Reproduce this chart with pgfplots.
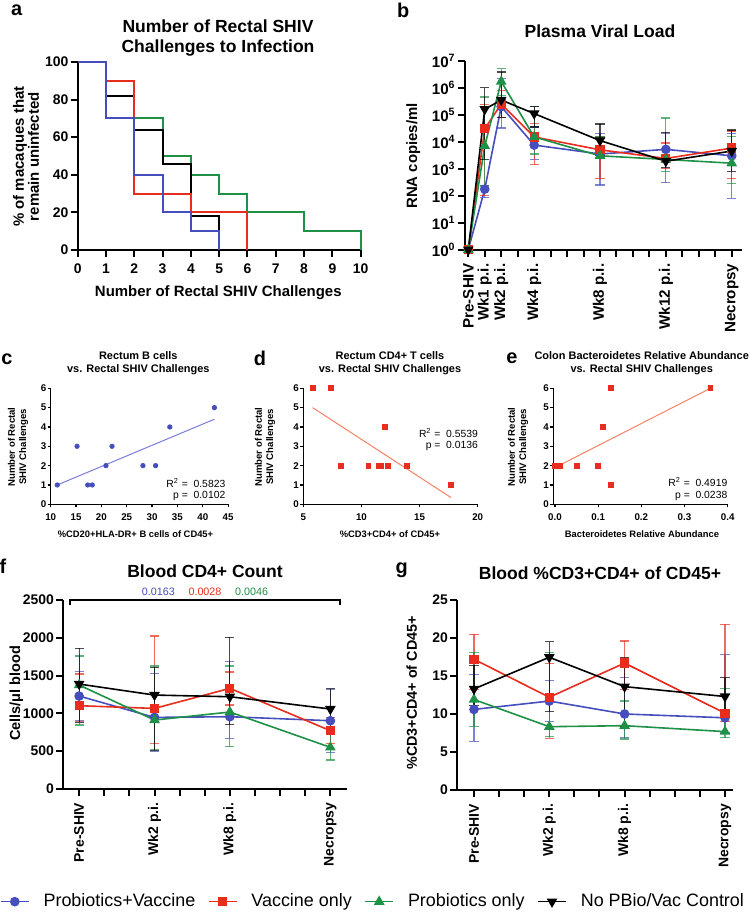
\documentclass[border=0pt]{standalone}
\usepackage{pgfplots}
\pgfplotsset{compat=1.18}
\usepackage{fontspec}
\setmainfont{Liberation Sans}
\definecolor{pblue}{RGB}{70,78,190}
\definecolor{pred}{RGB}{232,45,30}
\definecolor{pgreen}{RGB}{30,145,70}
\definecolor{lblue}{RGB}{120,125,220}
\definecolor{lred}{RGB}{245,130,100}
\newcommand\fs[2]{\fontsize{#1}{#2}\selectfont}
\pgfplotsset{
  gp/.style={scale only axis, anchor=south west, clip=false,
    axis x line*=bottom, axis y line*=left,
    axis line style={line width=1bp,-},
    tick style={black,line width=1bp},
    tick align=outside, major tick length=3.5bp, minor tick length=3.5bp,
    tick label style={font=\bfseries\fs{7}{8}},
    yticklabel style={inner xsep=1bp},
    /pgf/number format/assume math mode=true,
    /pgf/number format/1000 sep={}},
  sm/.style={gp, axis line style={line width=0.6bp,-},
    tick style={black,line width=0.6bp},
    major tick length=1.5bp,
    tick label style={font=\bfseries\fs{4.9}{5.5}},
    xticklabel style={yshift=0.5bp}, yticklabel style={xshift=0.5bp}},
  eb/.style={error bars/.cd, y dir=both, y explicit,
    error bar style={line width=0.6bp, opacity=0.7},
    error mark options={rotate=90, mark size=2.3bp, line width=0.6bp, opacity=0.7}},
  sb/.style={color=pblue, mark=*, line width=0.8bp, mark size=2bp, eb},
  sr/.style={color=pred, mark=square*, line width=0.8bp, mark size=1.9bp, eb},
  sg/.style={color=pgreen, mark=triangle*, line width=0.8bp, mark size=2.3bp, eb},
  sk/.style={color=black, mark=triangle*, mark options={rotate=180}, line width=0.8bp, mark size=2.3bp, eb},
  /pgfplots/table/ebt/.style={x=x, y=y, y error plus expr=\thisrow{hi}-\thisrow{y}, y error minus expr=\thisrow{y}-\thisrow{lo}, row sep=\\},
}
\begin{document}
\begin{tikzpicture}
\path[use as bounding box] (0,0) rectangle (375bp,-456.5bp);

% ---------- a ----------
\begin{axis}[gp, at={(77.7*0.5bp,-250*0.5bp)}, width=141.5bp, height=94bp,
  xmin=0, xmax=10, ymin=0, ymax=100, xtick={0,...,10}, ytick={0,20,...,100}]
\addplot[const plot, pgreen, line width=1bp] coordinates {(0,100)(1,70)(3,50)(4,40)(5,30)(6,20)(8,10)(10,0)};
\addplot[const plot, black, line width=1bp] coordinates {(0,100)(1,81.8)(2,63.6)(3,45.5)(4,18.2)(5,0)};
\addplot[const plot, pred, line width=1bp] coordinates {(0,100)(1,90)(2,30)(4,20)(6,0)};
\addplot[const plot, pblue, line width=1bp] coordinates {(0,100)(1,70)(2,40)(3,20)(4,10)(5,0)};
\end{axis}

% ---------- b ----------
\begin{axis}[gp, at={(465*0.5bp,-249.7*0.5bp)}, width=138.3bp, height=94.5bp,
  ymode=log, ymin=1, ymax=1e7, yminorticks=false,
  ytick={1,10,100,1000,10000,100000,1000000,10000000},
  yticklabels={10\textsuperscript{0},10\textsuperscript{1},10\textsuperscript{2},10\textsuperscript{3},10\textsuperscript{4},10\textsuperscript{5},10\textsuperscript{6},10\textsuperscript{7}},
  tick label style={font=\bfseries\fs{7.6}{8}},
  xmin=-0.2, xmax=16.6, xtick={0,1,2,4,8,12,16},
  xticklabels={Pre-SHIV,Wk1 p.i.,Wk2 p.i.,Wk4 p.i.,Wk8 p.i.,Wk12 p.i.,Necropsy},
  minor xtick={3,5,6,7,9,10,11,13,14,15},
  x tick label style={rotate=90, anchor=east}]
\addplot[sb] table[ebt] {x y lo hi\\ 0 1 1 1\\ 1 175 85 240\\ 2 200000 32000 2200000\\ 4 7500 2200 35000\\ 8 3500 250 20000\\ 12 5200 300 20000\\ 16 3000 80 20000\\};
\addplot[sr] table[ebt] {x y lo hi\\ 0 1 1 1\\ 1 30000 100 240000\\ 2 250000 80000 800000\\ 4 15000 1400 48000\\ 8 5000 430 15000\\ 12 2400 1000 9000\\ 16 5800 430 25000\\};
\addplot[sg] table[ebt] {x y lo hi\\ 0 1 1 1\\ 1 7000 230 450000\\ 2 1700000 500000 5000000\\ 4 15000 3500 200000\\ 8 3000 2500 15000\\ 12 2200 800 75000\\ 16 1600 280 16000\\};
\addplot[sk] table[ebt] {x y lo hi\\ 0 1 1 1\\ 1 160000 2200 1000000\\ 2 350000 80000 3800000\\ 4 110000 35000 200000\\ 8 11000 3000 45000\\ 12 1900 1100 22000\\ 16 4500 800 27000\\};
\end{axis}

% ---------- c ----------
\begin{axis}[sm, at={(50.7*0.5bp,-504.3*0.5bp)}, width=88.7bp, height=58bp,
  xmin=10, xmax=45, ymin=0, ymax=6, xtick={10,15,...,45}, ytick={0,...,6}]
\addplot[only marks, mark=*, pblue, mark size=1.1bp] coordinates {(11.3,1)(15.2,3)(17.3,1)(18.2,1)(20.9,2)(22.1,3)(28.2,2)(30.7,2)(33.5,4)(42.3,5)};
\addplot[lblue, line width=0.5bp] coordinates {(11.3,1.0)(42.3,4.4)};
\end{axis}

% ---------- d ----------
\begin{axis}[sm, at={(303.3*0.5bp,-504.3*0.5bp)}, width=87.2bp, height=58bp,
  xmin=5, xmax=20, ymin=0, ymax=6, xtick={5,10,15,20}, ytick={0,...,6}]
\addplot[lred, line width=0.5bp] coordinates {(5.8,5.0)(17.7,0.35)};
\addplot[only marks, mark=square*, pred, mark size=1.2bp] coordinates {(5.8,6)(7.4,6)(8.2,2)(10.6,2)(11.5,2)(11.7,2)(12.0,4)(12.3,2)(13.9,2)(17.7,1)};
\end{axis}

% ---------- e ----------
\begin{axis}[sm, at={(553.3*0.5bp,-504.3*0.5bp)}, width=87.2bp, height=58bp,
  xmin=-0.004, xmax=0.4, ymin=0, ymax=6, xtick={0,0.1,0.2,0.3,0.4},
  xticklabels={0.0,0.1,0.2,0.3,0.4}, ytick={0,...,6}]
\addplot[lred, line width=0.5bp] coordinates {(0,1.9)(0.36,6.0)};
\addplot[only marks, mark=square*, pred, mark size=1.2bp] coordinates {(0.0,2)(0.004,2)(0.008,2)(0.012,2)(0.05,2)(0.10,2)(0.11,4)(0.13,6)(0.13,1)(0.36,6)};
\end{axis}

% ---------- f ----------
\begin{axis}[gp, at={(63.3*0.5bp,-788.7*0.5bp)}, width=141.7bp, height=94.3bp,
  xmin=-0.63, xmax=10.65, ymin=0, ymax=2500, ytick={0,500,...,2500},
  xtick={0,3,6,10}, xticklabels={Pre-SHIV,Wk2 p.i.,Wk8 p.i.,Necropsy},
  minor xtick={1,2,4,5,7,8,9},
  x tick label style={rotate=90, anchor=east},
  legend columns=4,
  legend style={at={(axis description cs:-0.2234,-0.599)}, anchor=west, draw=none, fill=none,
    inner sep=0pt, outer sep=0pt, font=\fs{9}{10},
    nodes={inner sep=0pt},
    /tikz/every even column/.append style={column sep=6.3bp},
    /tikz/every odd column/.append style={column sep=7bp}},
  legend image code/.code={\draw[mark repeat=2,mark phase=2] plot coordinates {(0bp,0bp)(7bp,0bp)(14bp,0bp)};}]
\addplot[sb] table[ebt] {x y lo hi\\ 0 1228 900 1550\\ 3 945 495 1528\\ 6 954 667 1687\\ 10 901 477 1320\\};
\addlegendentry{Probiotics+Vaccine}
\addplot[sr] table[ebt] {x y lo hi\\ 0 1100 888 1520\\ 3 1064 600 2023\\ 6 1330 1110 1546\\ 10 769 601 940\\};
\addlegendentry{Vaccine only}
\addplot[sg] table[ebt] {x y lo hi\\ 0 1374 844 1760\\ 3 910 515 1625\\ 6 1016 556 1625\\ 10 548 380 720\\};
\addlegendentry{Probiotics only}
\addplot[sk] table[ebt] {x y lo hi\\ 0 1387 880 1860\\ 3 1241 510 1610\\ 6 1219 852 2005\\ 10 1056 790 1325\\};
\addlegendentry{No PBio/Vac Control}
\draw[line width=1bp] (axis cs:-0.37,2430) -- (axis cs:-0.37,2500) -- (axis cs:10.4,2500) -- (axis cs:10.4,2430);
\end{axis}

% ---------- g ----------
\begin{axis}[gp, at={(457.3*0.5bp,-790*0.5bp)}, width=138bp, height=95bp,
  xmin=-0.665, xmax=10.33, ymin=0, ymax=25, ytick={0,5,...,25},
  xtick={0,3,6,10}, xticklabels={Pre-SHIV,Wk2 p.i.,Wk8 p.i.,Necropsy},
  minor xtick={1,2,4,5,7,8,9},
  x tick label style={rotate=90, anchor=east}]
\addplot[sb] table[ebt] {x y lo hi\\ 0 10.6 6.4 15.2\\ 3 11.7 9.0 14.4\\ 6 10.0 6.9 14.8\\ 10 9.5 7.5 17.8\\};
\addplot[sr] table[ebt] {x y lo hi\\ 0 17.2 13.2 20.5\\ 3 12.2 6.8 16.6\\ 6 16.7 13.2 19.6\\ 10 10.1 9.0 21.8\\};
\addplot[sg] table[ebt] {x y lo hi\\ 0 11.9 8.4 18.1\\ 3 8.33 7.0 18.1\\ 6 8.46 6.7 11.7\\ 10 7.68 6.9 13.4\\};
\addplot[sk] table[ebt] {x y lo hi\\ 0 13.3 11.1 16.4\\ 3 17.46 10.35 19.5\\ 6 13.6 8.3 17.4\\ 10 12.3 9.8 14.8\\};
\end{axis}

% ---------- text ----------
\begin{scope}[x=0.5bp, y=-0.5bp]
\node[font=\bfseries\fs{10}{12}] at (16.7,10) {a};
\node[font=\bfseries\fs{8.8}{10}, align=center] at (218,38.3) {Number of Rectal SHIV\\Challenges to Infection};
\node[rotate=90, font=\bfseries\fs{7.5}{7.5}, align=center] at (26,156.7) {\% of macaques that\\remain uninfected};
\node[font=\bfseries\fs{7.5}{9}] at (218.3,292.7) {Number of Rectal SHIV Challenges};

\node[font=\bfseries\fs{10}{12}] at (403.3,10) {b};
\node[font=\bfseries\fs{8.8}{10}] at (600,31.7) {Plasma Viral Load};
\node[rotate=90, font=\bfseries\fs{7.5}{9}] at (413.3,156) {RNA copies/ml};

\node[font=\bfseries\fs{10}{12}] at (7,359) {c};
\node[font=\bfseries\fs{5.5}{6.7}, align=center] at (138.3,363.3) {Rectum B cells\\vs. Rectal SHIV Challenges};
\node[rotate=90, font=\bfseries\fs{4.8}{5.6}, align=center] at (18,447) {Number of Rectal\\SHIV Challenges};
\node[font=\bfseries\fs{4.7}{5.5}] at (135.5,534) {\%CD20+HLA-DR+ B cells of CD45+};
\node[anchor=east, font=\fs{5.2}{5.9}, inner sep=0pt] at (225.7,490.3) {\begin{tabular}{@{}r@{\ \ }l@{}}R\textsuperscript{2} = & 0.5823\\ p = & 0.0102\end{tabular}};

\node[font=\bfseries\fs{10}{12}] at (260,358) {d};
\node[font=\bfseries\fs{5.5}{6.7}, align=center] at (390,363.3) {Rectum CD4+ T cells\\vs. Rectal SHIV Challenges};
\node[rotate=90, font=\bfseries\fs{4.8}{5.6}, align=center] at (265,447) {Number of Rectal\\SHIV Challenges};
\node[font=\bfseries\fs{4.7}{5.5}] at (390,534) {\%CD3+CD4+ of CD45+};
\node[anchor=east, font=\fs{5.2}{5.9}, inner sep=0pt] at (478.3,440.2) {\begin{tabular}{@{}r@{\ \ }l@{}}R\textsuperscript{2} = & 0.5539\\ p = & 0.0136\end{tabular}};

\node[font=\bfseries\fs{10}{12}] at (512,358) {e};
\node[font=\bfseries\fs{5.5}{6.7}, align=center] at (641.7,363.3) {Colon Bacteroidetes Relative Abundance\\vs. Rectal SHIV Challenges};
\node[rotate=90, font=\bfseries\fs{4.8}{5.6}, align=center] at (518,447) {Number of Rectal\\SHIV Challenges};
\node[font=\bfseries\fs{4.7}{5.5}] at (642,534) {Bacteroidetes Relative Abundance};
\node[anchor=east, font=\fs{5.2}{5.9}, inner sep=0pt] at (727.7,489.8) {\begin{tabular}{@{}r@{\ \ }l@{}}R\textsuperscript{2} = & 0.4919\\ p = & 0.0238\end{tabular}};

\node[font=\bfseries\fs{10}{12}] at (3,566) {f};
\node[font=\bfseries\fs{8.8}{10}] at (205,571.7) {Blood CD4+ Count};
\node[font=\fs{5.4}{6}, text=pblue] at (158.3,592.3) {0.0163};
\node[font=\fs{5.4}{6}, text=pred] at (205,592.3) {0.0028};
\node[font=\fs{5.4}{6}, text=pgreen] at (251.7,592.3) {0.0046};
\node[rotate=90, font=\bfseries\fs{7.3}{9}] at (16.3,693.3) {Cells/μl blood};

\node[font=\bfseries\fs{10}{12}] at (401.7,570) {g};
\node[font=\bfseries\fs{8.8}{10}] at (600,573) {Blood \%CD3+CD4+ of CD45+};
\node[rotate=90, font=\bfseries\fs{7.2}{9}] at (411.7,693) {\%CD3+CD4+ of CD45+};
\end{scope}
\end{tikzpicture}
\end{document}
